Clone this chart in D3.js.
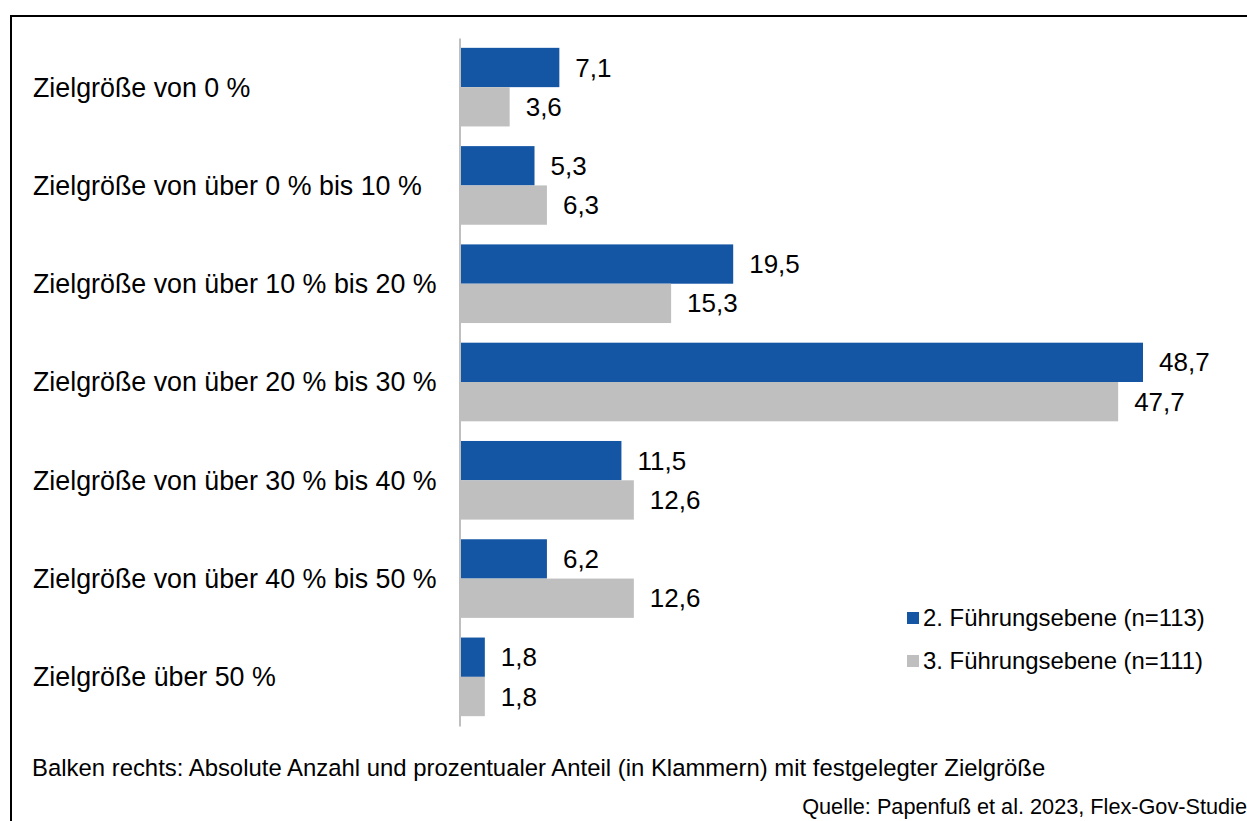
<!DOCTYPE html>
<html>
<head>
<meta charset="utf-8">
<script src="https://cdnjs.cloudflare.com/ajax/libs/d3/7.8.5/d3.min.js"></script>
<style>
  body { margin: 0; background: #fff; }
  text { font-family: "Liberation Sans", Arial, sans-serif; fill: #000; }
</style>
</head>
<body>
<div id="chart"></div>
<script>
var width = 1247;
var height = 821;

// categories and values (bars = absolute counts, labels = percent)
var categories = [
  "Zielgröße von 0 %",
  "Zielgröße von über 0 % bis 10 %",
  "Zielgröße von über 10 % bis 20 %",
  "Zielgröße von über 20 % bis 30 %",
  "Zielgröße von über 30 % bis 40 %",
  "Zielgröße von über 40 % bis 50 %",
  "Zielgröße über 50 %"
];
var seriesNames = ["2. Führungsebene (n=113)", "3. Führungsebene (n=111)"];
var counts2 = [8, 6, 22, 55, 13, 7, 2];
var counts3 = [4, 7, 17, 53, 14, 14, 2];
var pct2 = ["7,1", "5,3", "19,5", "48,7", "11,5", "6,2", "1,8"];
var pct3 = ["3,6", "6,3", "15,3", "47,7", "12,6", "12,6", "1,8"];
var colors = ["#1556a4", "#bfbfbf"];

var svg = d3.select("#chart").append("svg")
    .attr("width", width)
    .attr("height", height);

// frame (right and bottom edge run off the picture)
svg.append("rect")
    .attr("x", 11).attr("y", 16)
    .attr("width", width).attr("height", height)
    .attr("fill", "none")
    .attr("stroke", "#000")
    .attr("stroke-width", 2);

var xScale = d3.scaleLinear()
    .domain([0, 55])
    .range([460, 1143]);

var yScale = d3.scaleBand()
    .domain(categories)
    .range([38, 726])
    .paddingInner(0.2)
    .paddingOuter(0.1);

var sub = d3.scaleBand()
    .domain([0, 1])
    .range([0, yScale.bandwidth()]);

var rows = categories.map(function(c, i) {
  return {cat: c, vals: [counts2[i], counts3[i]], labels: [pct2[i], pct3[i]]};
});

var groups = svg.selectAll("g.row")
    .data(rows)
    .enter()
    .append("g")
    .attr("class", "row")
    .attr("transform", function(d) { return "translate(0," + yScale(d.cat) + ")"; });

groups.selectAll("rect")
    .data(function(d) { return d.vals.map(function(v, j) { return {v: v, j: j}; }); })
    .enter()
    .append("rect")
    .attr("x", xScale(0))
    .attr("y", function(d) { return sub(d.j); })
    .attr("width", function(d) { return xScale(d.v) - xScale(0); })
    .attr("height", sub.bandwidth())
    .attr("fill", function(d) { return colors[d.j]; });

groups.selectAll("text.val")
    .data(function(d) { return d.vals.map(function(v, j) { return {v: v, j: j, l: d.labels[j]}; }); })
    .enter()
    .append("text")
    .attr("class", "val")
    .attr("x", function(d) { return xScale(d.v) + 16; })
    .attr("y", function(d) { return sub(d.j) + sub.bandwidth() / 2; })
    .attr("dy", "0.35em")
    .style("font-size", "26px")
    .text(function(d) { return d.l; });

// category labels
svg.selectAll("text.cat")
    .data(categories)
    .enter()
    .append("text")
    .attr("class", "cat")
    .attr("x", 33)
    .attr("y", function(d) { return yScale(d) + yScale.bandwidth() / 2; })
    .attr("dy", "0.35em")
    .style("font-size", "26.8px")
    .text(function(d) { return d; });

// axis line
var yAxis = d3.axisLeft(yScale).tickSize(0).tickFormat("");
svg.append("g")
    .attr("transform", "translate(" + 459.5 + ",0)")
    .call(yAxis)
    .call(function(g) { g.select(".domain").attr("stroke", "#bfbfbf").attr("stroke-width", 2); });

// legend
var legend = svg.selectAll("g.legend")
    .data(seriesNames)
    .enter()
    .append("g")
    .attr("class", "legend")
    .attr("transform", function(d, i) { return "translate(907," + (612 + i * 43) + ")"; });
legend.append("rect")
    .attr("width", 12).attr("height", 12)
    .attr("fill", function(d, i) { return colors[i]; });
legend.append("text")
    .attr("x", 16).attr("y", 6)
    .attr("dy", "0.35em")
    .style("font-size", "23.9px")
    .text(function(d) { return d; });

svg.append("text")
    .attr("x", 32).attr("y", 768)
    .attr("dy", "0.35em")
    .style("font-size", "23.9px")
    .text("Balken rechts: Absolute Anzahl und prozentualer Anteil (in Klammern) mit festgelegter Zielgröße");

svg.append("text")
    .attr("x", 1247).attr("y", 806)
    .attr("dy", "0.35em")
    .attr("text-anchor", "end")
    .style("font-size", "21.7px")
    .text("Quelle: Papenfuß et al. 2023, Flex-Gov-Studie");
</script>
</body>
</html>
